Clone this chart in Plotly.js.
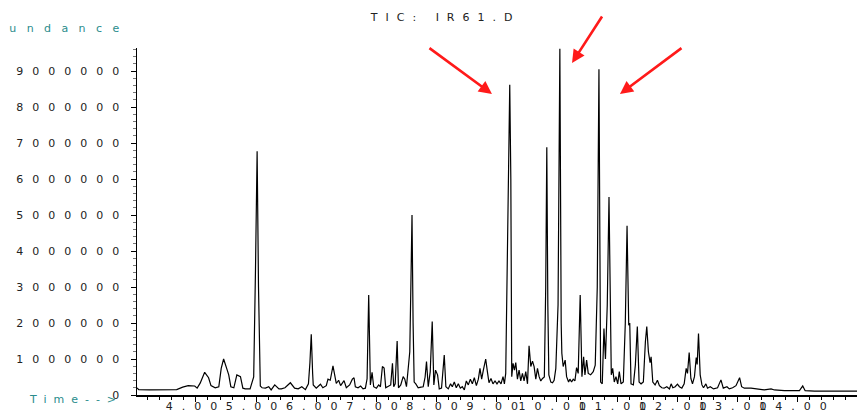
<!DOCTYPE html>
<html>
<head>
<meta charset="utf-8">
<script src="https://cdn.plot.ly/plotly-3.0.1.min.js"></script>
<style>
  html, body { margin: 0; padding: 0; background: #fff; }
  #chart { width: 857px; height: 413px; }
  .xtick text, .ytick text { letter-spacing: 9px; }
  .gtitle { letter-spacing: 8px; }
  .annotation-text { letter-spacing: 9px; }
</style>
</head>
<body>
<div id="chart"></div>
<script>
// Retention time (min)
const times = [
  3.02, 3.05, 3.23, 3.45, 3.68, 3.78, 3.87, 3.98, 4.02, 4.07,
  4.145, 4.21, 4.25, 4.32, 4.38, 4.42, 4.46, 4.52, 4.545, 4.58,
  4.63, 4.68, 4.74, 4.78, 4.82, 4.90, 4.96, 4.99, 5.017, 5.04,
  5.07, 5.10, 5.155, 5.21, 5.25, 5.31, 5.38, 5.42, 5.48, 5.57,
  5.64, 5.70, 5.76, 5.82, 5.87, 5.895, 5.917, 5.94, 5.95, 6.00,
  6.07, 6.11, 6.167, 6.195, 6.233, 6.278, 6.305, 6.333, 6.372, 6.405,
  6.462, 6.50, 6.555, 6.60, 6.628, 6.65, 6.695, 6.738, 6.778, 6.817,
  6.845, 6.872, 6.90, 6.928, 6.955, 7.00, 7.038, 7.067, 7.10, 7.128,
  7.155, 7.195, 7.238, 7.267, 7.288, 7.312, 7.345, 7.367, 7.405, 7.445,
  7.472, 7.50, 7.555, 7.572, 7.592, 7.61, 7.628, 7.655, 7.695, 7.74,
  7.778, 7.81, 7.833, 7.862, 7.895, 7.928, 7.955, 7.983, 8.017, 8.045,
  8.083, 8.128, 8.155, 8.195, 8.233, 8.262, 8.295, 8.328, 8.362, 8.395,
  8.428, 8.462, 8.495, 8.528, 8.562, 8.595, 8.628, 8.662, 8.695, 8.722,
  8.75, 8.778, 8.817, 8.845, 8.872, 8.905, 8.938, 8.972, 9.005, 9.038,
  9.072, 9.105, 9.128, 9.15, 9.175, 9.20, 9.217, 9.235, 9.25, 9.272,
  9.295, 9.317, 9.345, 9.372, 9.40, 9.428, 9.455, 9.483, 9.512, 9.538,
  9.567, 9.595, 9.622, 9.65, 9.678, 9.705, 9.733, 9.762, 9.792, 9.815,
  9.833, 9.85, 9.867, 9.90, 9.928, 9.955, 9.983, 10.02, 10.05, 10.072,
  10.083, 10.105, 10.138, 10.162, 10.195, 10.217, 10.245, 10.272, 10.30, 10.328,
  10.355, 10.388, 10.417, 10.445, 10.467, 10.495, 10.522, 10.562, 10.605, 10.638,
  10.672, 10.70, 10.728, 10.755, 10.783, 10.808, 10.838, 10.867, 10.888, 10.905,
  10.928, 10.955, 10.983, 11.012, 11.038, 11.067, 11.105, 11.138, 11.167, 11.195,
  11.212, 11.233, 11.272, 11.305, 11.338, 11.367, 11.40, 11.438, 11.472, 11.495,
  11.522, 11.55, 11.567, 11.595, 11.633, 11.672, 11.705, 11.745, 11.783, 11.828,
  11.872, 11.90, 11.928, 11.967, 12.005, 12.038, 12.078, 12.117, 12.15, 12.172,
  12.20, 12.228, 12.255, 12.288, 12.317, 12.333, 12.355, 12.383, 12.412, 12.438,
  12.478, 12.505, 12.55, 12.605, 12.672, 12.728, 12.767, 12.828, 12.867, 12.922,
  12.978, 13.005, 13.038, 13.072, 13.117, 13.228, 13.312, 13.45, 13.562, 13.617,
  13.783, 14.033, 14.088, 14.128, 14.283, 14.562, 14.99
];

// Abundance (counts)
const abundance = [
  200000, 150000, 140000, 140000, 150000, 220000, 260000, 250000, 190000, 330000,
  630000, 480000, 260000, 200000, 230000, 740000, 1000000, 690000, 560000, 230000,
  200000, 560000, 510000, 190000, 170000, 170000, 500000, 3500000, 6770000, 3000000,
  250000, 200000, 190000, 230000, 140000, 280000, 170000, 170000, 200000, 340000,
  190000, 170000, 230000, 150000, 310000, 900000, 1690000, 600000, 280000, 190000,
  300000, 200000, 260000, 440000, 410000, 810000, 510000, 320000, 410000, 260000,
  400000, 200000, 280000, 440000, 480000, 230000, 200000, 250000, 170000, 190000,
  450000, 2780000, 280000, 630000, 230000, 190000, 280000, 230000, 790000, 750000,
  200000, 230000, 280000, 880000, 230000, 310000, 1500000, 200000, 280000, 510000,
  440000, 230000, 1200000, 2920000, 5000000, 2000000, 360000, 310000, 200000, 220000,
  230000, 500000, 930000, 230000, 650000, 2040000, 280000, 690000, 560000, 170000,
  190000, 1110000, 230000, 170000, 310000, 230000, 360000, 200000, 310000, 190000,
  230000, 140000, 390000, 280000, 440000, 310000, 480000, 260000, 440000, 740000,
  440000, 690000, 1000000, 650000, 340000, 460000, 310000, 390000, 310000, 390000,
  310000, 510000, 310000, 600000, 3500000, 7500000, 8620000, 6000000, 510000, 880000,
  690000, 900000, 440000, 690000, 390000, 600000, 390000, 650000, 310000, 1370000,
  790000, 940000, 790000, 440000, 740000, 510000, 390000, 460000, 500000, 3000000,
  6880000, 2500000, 560000, 360000, 340000, 410000, 740000, 2500000, 9620000, 2000000,
  1160000, 790000, 970000, 510000, 360000, 440000, 360000, 440000, 390000, 760000,
  600000, 2780000, 510000, 1060000, 560000, 970000, 600000, 560000, 650000, 830000,
  3000000, 9050000, 360000, 310000, 1850000, 1000000, 2500000, 5500000, 1500000, 560000,
  740000, 360000, 510000, 310000, 650000, 310000, 360000, 2000000, 4700000, 1940000,
  2000000, 310000, 280000, 830000, 1900000, 360000, 310000, 360000, 1480000, 1900000,
  1200000, 900000, 1060000, 360000, 280000, 410000, 260000, 200000, 190000, 230000,
  170000, 310000, 200000, 230000, 300000, 230000, 190000, 310000, 740000, 600000,
  1180000, 460000, 310000, 510000, 1040000, 850000, 1710000, 560000, 280000, 200000,
  310000, 190000, 230000, 170000, 200000, 420000, 190000, 230000, 170000, 200000,
  260000, 370000, 480000, 230000, 190000, 190000, 170000, 140000, 170000, 140000,
  120000, 120000, 250000, 120000, 110000, 110000, 110000
];

// Axis tick settings (values)
const xTickStep = 1;
const xMinorStep = 0.2;
const yTickStep = 1000000;
const yMinorStep = 200000;

const titleText = 'TIC: IR61.D';
const yLabelText = 'Abundance';
const xLabelText = 'Time-->';

const tickFont = { family: 'DejaVu Sans', size: 11, color: '#222' };
const teal = '#2a8c8c';

const trace = {
  type: 'scatter',
  mode: 'lines',
  x: times,
  y: abundance,
  line: { color: '#000', width: 1.2 },
  hoverinfo: 'skip'
};

const arrowStyle = {
  xref: 'paper', yref: 'paper', axref: 'pixel', ayref: 'pixel',
  text: '', showarrow: true, arrowhead: 2, arrowsize: 1, arrowwidth: 2.6,
  arrowcolor: '#ff1a1a', standoff: 0
};

const layout = {
  width: 857,
  height: 413,
  margin: { l: 137, r: 0, t: 48, b: 18, pad: 0 },
  paper_bgcolor: '#fff',
  plot_bgcolor: '#fff',
  showlegend: false,
  title: {
    text: titleText,
    font: { family: 'DejaVu Sans', size: 11, color: '#222' },
    xref: 'container', yref: 'container',
    x: 0.52, y: 0.958, xanchor: 'center', yanchor: 'middle'
  },
  xaxis: {
    range: [3.02, 14.99],
    showgrid: false, zeroline: false,
    showline: true, linecolor: '#000', linewidth: 1.5,
    ticks: 'outside', ticklen: 5, tickwidth: 1, tickcolor: '#000',
    tick0: 0, dtick: xTickStep, tickformat: '.2f', tickangle: 0,
    ticklabelstandoff: -5,
    tickfont: tickFont,
    minor: { tick0: 0, dtick: xMinorStep, ticks: 'outside', ticklen: 3, tickcolor: '#000', showgrid: false }
  },
  yaxis: {
    range: [0, 9640000],
    showgrid: false, zeroline: false,
    showline: true, linecolor: '#000', linewidth: 1.5,
    ticks: 'outside', ticklen: 5, tickwidth: 1, tickcolor: '#000',
    tick0: 0, dtick: yTickStep, tickformat: 'd',
    tickfont: tickFont,
    minor: { tick0: 0, dtick: yMinorStep, ticks: 'outside', ticklen: 3, tickcolor: '#777', showgrid: false }
  },
  annotations: [
    {
      xref: 'paper', yref: 'paper', x: -0.0064, y: 1.0548,
      xanchor: 'right', yanchor: 'middle', showarrow: false,
      text: '<span style="letter-spacing:10.4px">' + yLabelText + '</span>',
      font: { family: 'DejaVu Sans', size: 11, color: teal }
    },
    {
      xref: 'paper', yref: 'paper', x: -0.1528, y: -0.0144,
      xanchor: 'left', yanchor: 'middle', showarrow: false,
      text: '<span style="letter-spacing:7px">' + xLabelText + '</span>',
      font: { family: 'DejaVu Sans', size: 11, color: teal }
    },
    Object.assign({ x: 0.493, y: 0.8674, ax: -64, ay: -47 }, arrowStyle),
    Object.assign({ x: 0.6042, y: 0.9568, ax: 31, ay: -48 }, arrowStyle),
    Object.assign({ x: 0.6708, y: 0.8674, ax: 63, ay: -47 }, arrowStyle)
  ]
};

Plotly.newPlot('chart', [trace], layout, { staticPlot: true, displayModeBar: false });
</script>
</body>
</html>
